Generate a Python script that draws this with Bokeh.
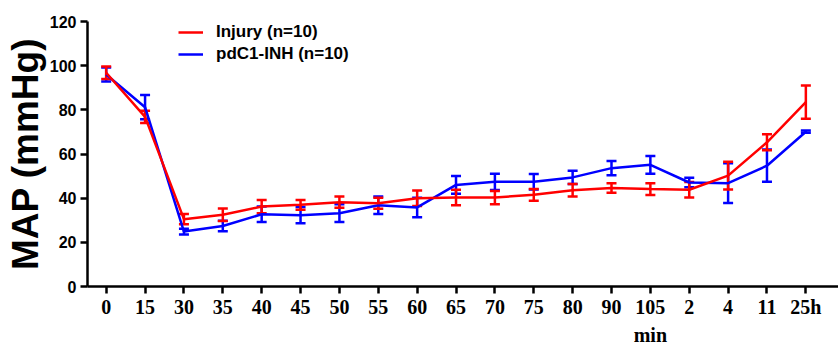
from bokeh.plotting import figure
from bokeh.models import (ColumnDataSource, FixedTicker, Whisker, TeeHead, Legend,
                          LegendItem, Range1d, LinearAxis)
from bokeh.embed import file_html
from bokeh.resources import INLINE

# ---- data ----
time_labels = ["0", "15", "30", "35", "40", "45", "50", "55", "60", "65", "70",
               "75", "80", "90", "105", "2", "4", "11", "25h"]
unit_label = "min"
unit_label_at = 14  # under "105"
injury_mean = [96.8, 76.8, 30.5, 32.5, 36.2, 37.0, 38.2, 37.7, 40.0, 40.3, 40.3,
               41.5, 43.6, 44.6, 44.1, 43.8, 50.2, 65.3, 83.5]
injury_sem = [2.8, 2.8, 2.3, 2.8, 3.0, 2.2, 2.5, 2.5, 3.5, 3.5, 3.0,
              2.7, 2.8, 2.2, 2.7, 3.5, 6.3, 3.6, 7.5]
inh_mean = [96.0, 81.2, 24.9, 27.4, 32.7, 32.3, 33.2, 36.8, 35.8, 46.0, 47.4,
            47.4, 49.4, 53.6, 55.1, 47.1, 46.8, 54.7, 70.1]
inh_sem = [3.2, 5.5, 1.3, 2.4, 3.5, 3.7, 4.0, 4.0, 4.4, 4.0, 3.7,
           3.5, 3.0, 3.2, 4.0, 2.2, 9.0, 7.3, 0.5]
series_names = ["Injury (n=10)", "pdC1-INH (n=10)"]
y_ticks = [0, 20, 40, 60, 80, 100, 120]

RED = "#ff0000"
BLUE = "#0000ff"
SANS = "Liberation Sans"
SERIF = "Liberation Serif"

idx = list(range(len(time_labels)))

def make_src(mean, sem):
    return ColumnDataSource(dict(
        x=idx, y=mean,
        lo=[m - s for m, s in zip(mean, sem)],
        hi=[m + s for m, s in zip(mean, sem)],
    ))

src_inj = make_src(injury_mean, injury_sem)
src_inh = make_src(inh_mean, inh_sem)

p = figure(width=838, height=348, output_backend="svg", toolbar_location=None,
           x_range=Range1d(-0.481, 18.84), y_range=Range1d(0, 120),
           min_border_left=87, min_border_right=0, min_border_top=21,
           min_border_bottom=62)
p.outline_line_color = None
p.grid.visible = False
p.background_fill_color = None
p.border_fill_color = "white"

# axes styling
for ax in (p.xaxis[0], p.yaxis[0]):
    ax.axis_line_width = 2.5
    ax.axis_line_color = "black"
    ax.major_tick_line_width = 2.5
    ax.major_tick_line_color = "black"
    ax.major_tick_in = 0
    ax.major_tick_out = 7
    ax.minor_tick_line_color = None

p.yaxis.ticker = FixedTicker(ticks=y_ticks)
p.yaxis.major_label_text_font = SANS
p.yaxis.major_label_text_font_style = "bold"
p.yaxis.major_label_text_font_size = "16px"
p.yaxis.major_label_text_color = "black"
p.yaxis.major_label_standoff = 4
p.yaxis.axis_label = "MAP (mmHg)"
p.yaxis.axis_label_text_font = SANS
p.yaxis.axis_label_text_font_style = "bold"
p.yaxis.axis_label_text_font_size = "37px"
p.yaxis.axis_label_text_color = "black"
p.yaxis.axis_label_standoff = 1

p.xaxis.ticker = FixedTicker(ticks=idx)
p.xaxis.major_label_overrides = {i: lab for i, lab in enumerate(time_labels)}
p.xaxis.major_label_text_font = SERIF
p.xaxis.major_label_text_font_style = "bold"
p.xaxis.major_label_text_font_size = "20px"
p.xaxis.major_label_text_color = "black"
p.xaxis.major_label_standoff = 2

# unit label "min" as a second, line-less axis under the first
unit_axis = LinearAxis(ticker=FixedTicker(ticks=[unit_label_at]),
                       major_label_overrides={unit_label_at: unit_label},
                       axis_line_color=None, major_tick_line_color=None,
                       minor_tick_line_color=None, major_tick_in=0, major_tick_out=0,
                       major_label_standoff=3,
                       major_label_text_font=SERIF, major_label_text_font_style="bold",
                       major_label_text_font_size="20px", major_label_text_color="black")
p.add_layout(unit_axis, "below")

# series: blue first, red on top
renderers = {}
for src, color, name in ((src_inh, BLUE, series_names[1]), (src_inj, RED, series_names[0])):
    r = p.line("x", "y", source=src, line_color=color, line_width=2.5)
    w = Whisker(source=src, base="x", lower="lo", upper="hi",
                line_color=color, line_width=2.5,
                upper_head=TeeHead(size=10, line_color=color, line_width=2.5),
                lower_head=TeeHead(size=10, line_color=color, line_width=2.5))
    p.add_layout(w)
    renderers[name] = r

legend = Legend(items=[LegendItem(label=series_names[0], renderers=[renderers[series_names[0]]]),
                       LegendItem(label=series_names[1], renderers=[renderers[series_names[1]]])],
                location=(91, 222), padding=0, spacing=2, margin=0,
                glyph_width=25, glyph_height=20, label_height=20, label_standoff=13,
                label_text_font=SANS, label_text_font_style="bold",
                label_text_font_size="17px", label_text_color="black",
                border_line_color=None, background_fill_alpha=0)
p.add_layout(legend)

open("out.html", "w").write(file_html(p, INLINE))
